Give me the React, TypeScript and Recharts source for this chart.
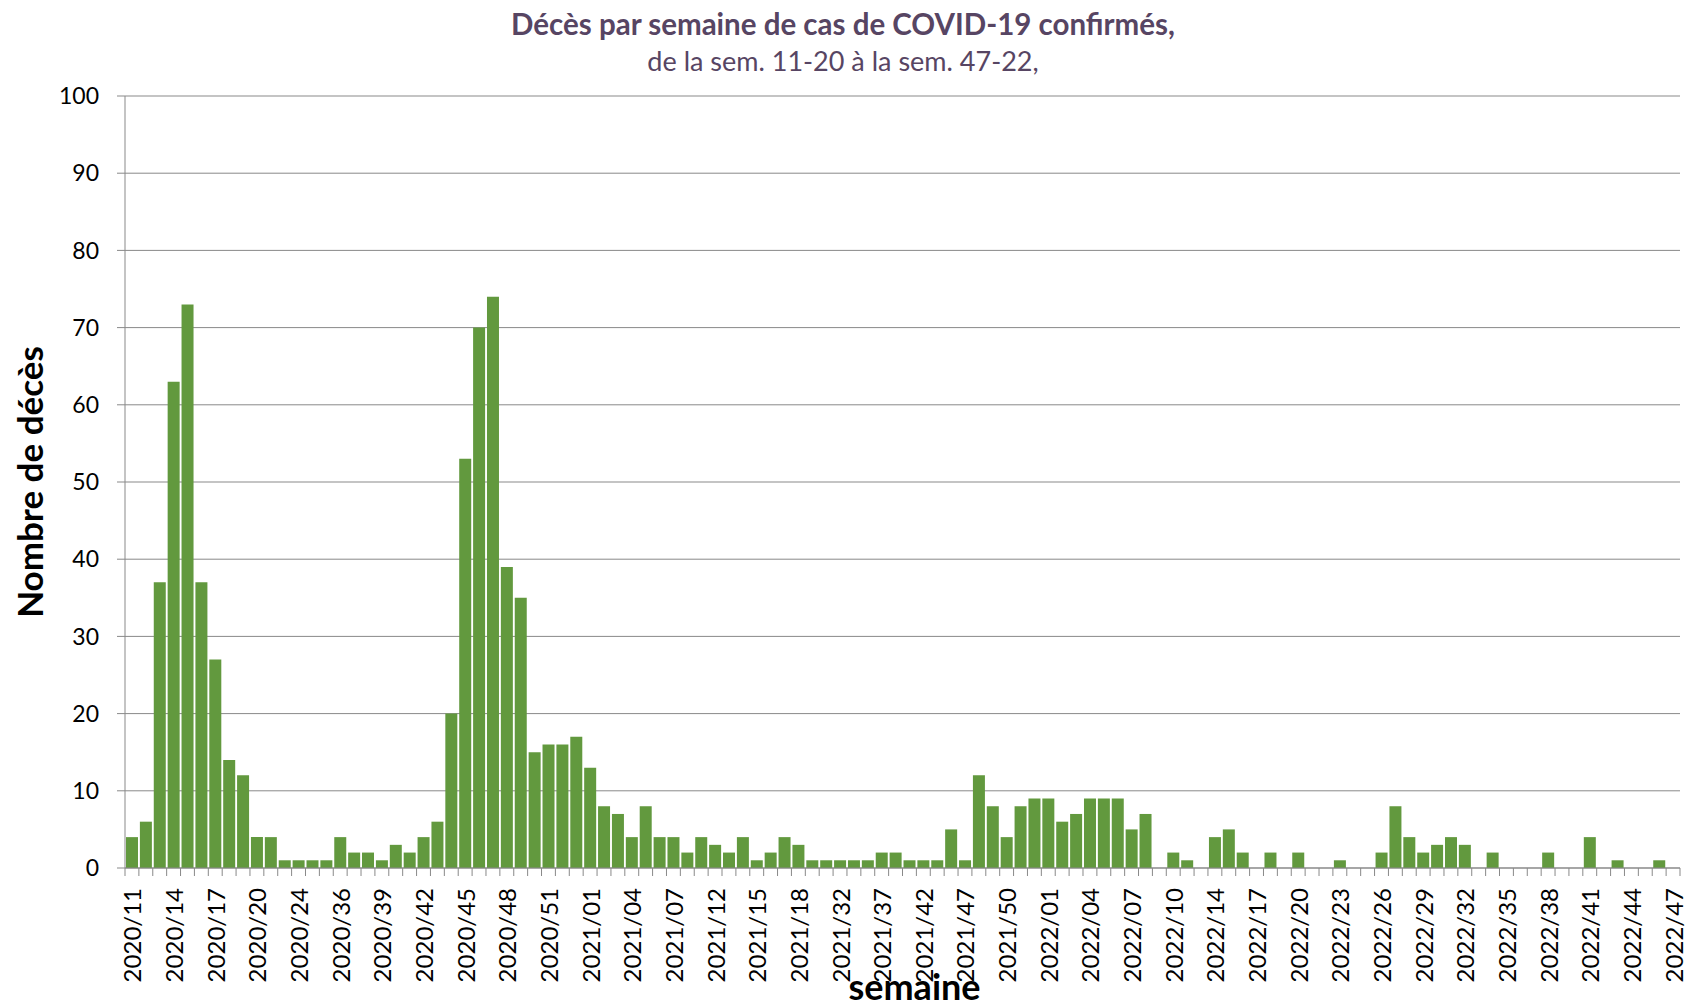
import { BarChart, Bar, XAxis, YAxis, CartesianGrid, Label } from "recharts";

// weeks shown in the chart (missing weeks are simply not in the source table)
const weeks2020 = ["11", "12", "13", "14", "15", "16", "17", "18", "19", "20", "21", "22", "24", "28", "33", "36", "37", "38", "39", "40", "41", "42", "43", "44", "45", "46", "47", "48", "49", "50", "51", "52", "53"];
const weeks2021 = ["01", "02", "03", "04", "05", "06", "07", "08", "10", "12", "13", "14", "15", "16", "17", "18", "20", "27", "32", "33", "35", "37", "38", "40", "42", "44", "46", "47", "48", "49", "50", "51", "52"];
const weeks2022 = ["01", "02", "03", "04", "05", "06", "07", "08", "09", "10", "11", "13", "14", "15", "16", "17", "18", "19", "20", "21", "22", "23", "24", "25", "26", "27", "28", "29", "30", "31", "32", "33", "34", "35", "36", "37", "38", "39", "40", "41", "42", "43", "44", "45", "46", "47"];

const deaths = [
  4, 6, 37, 63, 73, 37, 27, 14, 12, 4,
  4, 1, 1, 1, 1, 4, 2, 2, 1, 3,
  2, 4, 6, 20, 53, 70, 74, 39, 35, 15,
  16, 16, 17, 13, 8, 7, 4, 8, 4, 4,
  2, 4, 3, 2, 4, 1, 2, 4, 3, 1,
  1, 1, 1, 1, 2, 2, 1, 1, 1, 5,
  1, 12, 8, 4, 8, 9, 9, 6, 7, 9,
  9, 9, 5, 7, 0, 2, 1, 0, 4, 5,
  2, 0, 2, 0, 2, 0, 0, 1, 0, 0,
  2, 8, 4, 2, 3, 4, 3, 0, 2, 0,
  0, 0, 2, 0, 0, 4, 0, 1, 0, 0,
  1, 0,
];

const yTicks = [0, 10, 20, 30, 40, 50, 60, 70, 80, 90, 100];

const weeks = [
  ...weeks2020.map((w) => `2020/${w}`),
  ...weeks2021.map((w) => `2021/${w}`),
  ...weeks2022.map((w) => `2022/${w}`),
];

const data = weeks.map((semaine, i) => ({ semaine, deces: deaths[i] }));

const CHART_W = 1686;
const CHART_H = 1007;
const Y_AXIS_W = 125;
const MARGIN = { top: 96, right: 6, bottom: 0, left: 0 };
const BAND = (CHART_W - Y_AXIS_W - MARGIN.right - MARGIN.left) / weeks.length;

const AXIS_GREY = "#898989";
const FONT = "Lato, 'Open Sans', sans-serif";

function WeekTick(props: any) {
  const { x, y, index, payload } = props;
  const half = BAND / 2;
  return (
    <g>
      <line x1={x - half} x2={x - half} y1={y} y2={y + 8} stroke={AXIS_GREY} />
      {index === weeks.length - 1 && (
        <line x1={x + half} x2={x + half} y1={y} y2={y + 8} stroke={AXIS_GREY} />
      )}
      {index % 3 === 0 && (
        <text
          transform={`translate(${x},${y + 20}) rotate(-90)`}
          textAnchor="end"
          dominantBaseline="central"
          fontSize={24}
          fontFamily={FONT}
          fill="#000"
        >
          {payload.value}
        </text>
      )}
    </g>
  );
}

export default function App() {
  return (
    <div
      style={{
        position: "absolute",
        left: 0,
        top: 0,
        width: CHART_W,
        height: CHART_H,
        fontFamily: FONT,
        background: "#fff",
      }}
    >
      <div
        style={{
          position: "absolute",
          top: 7,
          width: "100%",
          textAlign: "center",
          fontSize: 29.5,
          lineHeight: "34px",
          fontWeight: 700,
          color: "#574563",
        }}
      >
        Décès par semaine de cas de COVID-19 confirmés,
      </div>
      <div
        style={{
          position: "absolute",
          top: 45,
          width: "100%",
          textAlign: "center",
          fontSize: 27,
          lineHeight: "32px",
          color: "#574563",
        }}
      >
        de la sem. 11-20 à la sem. 47-22,
      </div>
      <BarChart
        width={CHART_W}
        height={CHART_H}
        data={data}
        margin={MARGIN}
        barCategoryGap={1}
        style={{ fontFamily: FONT }}
      >
        <CartesianGrid vertical={false} stroke={AXIS_GREY} strokeWidth={1} />
        <XAxis
          dataKey="semaine"
          interval={0}
          height={139}
          tickLine={false}
          tickSize={0}
          tickMargin={0}
          stroke={AXIS_GREY}
          tick={<WeekTick />}
        >
          <Label
            value="semaine"
            position="insideBottom"
            offset={7}
            dx={12}
            style={{ fontSize: 36, fontWeight: 700, fill: "#000" }}
          />
        </XAxis>
        <YAxis
          width={Y_AXIS_W}
          domain={[0, 100]}
          ticks={yTicks}
          tickSize={8}
          tickMargin={18}
          stroke={AXIS_GREY}
          tick={{ fill: "#000", fontSize: 23 }}
        >
          <Label
            value="Nombre de décès"
            angle={-90}
            position="insideLeft"
            offset={31}
            style={{ textAnchor: "middle", fontSize: 35, fontWeight: 700, fill: "#000" }}
          />
        </YAxis>
        <Bar dataKey="deces" fill="#62993e" isAnimationActive={false} />
      </BarChart>
    </div>
  );
}
